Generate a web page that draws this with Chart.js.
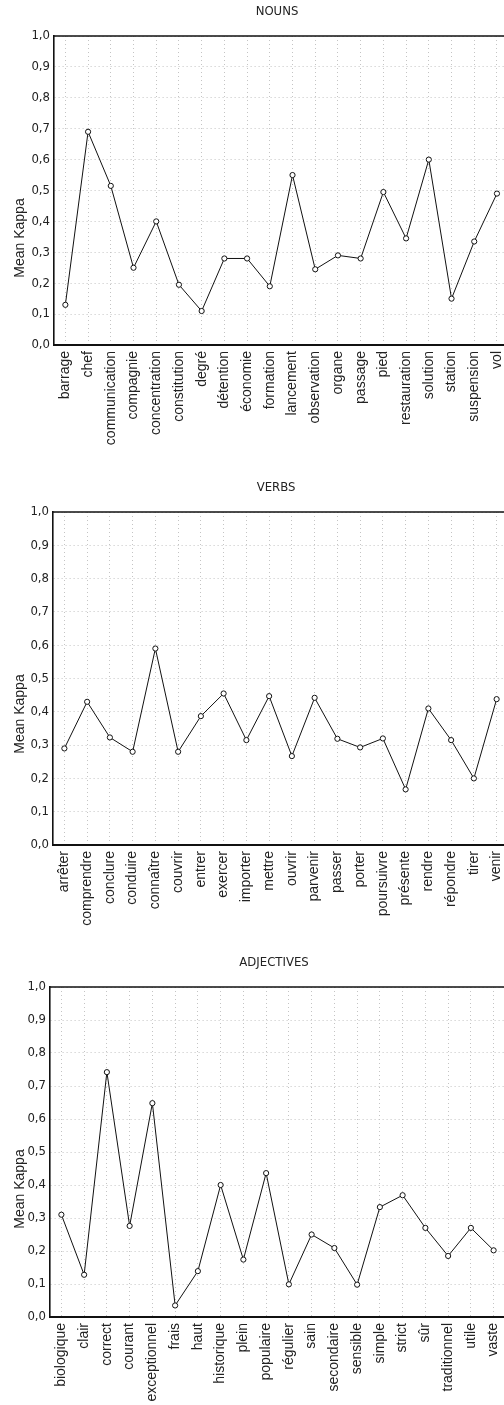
<!DOCTYPE html>
<html>
<head>
<meta charset="utf-8">
<script src="https://cdn.jsdelivr.net/npm/chart.js@4/dist/chart.umd.min.js"></script>
<style>
  html, body { margin: 0; padding: 0; background: #fff; }
  #wrap { position: relative; width: 504px; height: 1405px; overflow: hidden; }
  canvas { position: absolute; left: 0; }
</style>
</head>
<body>
<div id="wrap">
  <canvas id="nouns" width="520" height="450" style="top:0px"></canvas>
  <canvas id="verbs" width="520" height="475" style="top:460px"></canvas>
  <canvas id="adjectives" width="520" height="470" style="top:935px"></canvas>
</div>
<script>
// data
const nounLabels = ['barrage', 'chef', 'communication', 'compagnie', 'concentration', 'constitution',
    'degré', 'détention', 'économie', 'formation', 'lancement', 'observation', 'organe', 'passage',
    'pied', 'restauration', 'solution', 'station', 'suspension', 'vol'];
const nounKappa = [0.13, 0.69, 0.515, 0.25, 0.40, 0.195, 0.11, 0.28, 0.28, 0.19, 0.55, 0.245,
    0.29, 0.28, 0.495, 0.345, 0.60, 0.15, 0.335, 0.49];

const verbLabels = ['arrêter', 'comprendre', 'conclure', 'conduire', 'connaître', 'couvrir', 'entrer',
    'exercer', 'importer', 'mettre', 'ouvrir', 'parvenir', 'passer', 'porter', 'poursuivre',
    'présente', 'rendre', 'répondre', 'tirer', 'venir'];
const verbKappa = [0.29, 0.43, 0.323, 0.28, 0.59, 0.28, 0.387, 0.455, 0.315, 0.447, 0.267, 0.442,
    0.319, 0.293, 0.32, 0.167, 0.41, 0.315, 0.20, 0.438];

const adjLabels = ['biologique', 'clair', 'correct', 'courant', 'exceptionnel', 'frais', 'haut',
    'historique', 'plein', 'populaire', 'régulier', 'sain', 'secondaire', 'sensible', 'simple',
    'strict', 'sûr', 'traditionnel', 'utile', 'vaste'];
const adjKappa = [0.31, 0.128, 0.742, 0.276, 0.648, 0.035, 0.139, 0.40, 0.174, 0.436, 0.099, 0.25,
    0.209, 0.098, 0.333, 0.369, 0.27, 0.185, 0.27, 0.202];

const kappaTicks = ['0,0', '0,1', '0,2', '0,3', '0,4', '0,5', '0,6', '0,7', '0,8', '0,9', '1,0'];
const axisTitle = 'Mean Kappa';

const labelFont = '"Liberation Sans", Arial, sans-serif';
const narrowFont = '"Liberation Sans Narrow", "DejaVu Sans Condensed", "Liberation Sans", sans-serif';

// frame on top, panel title and the y title (centred lower than the plot, as in the figure)
const decorations = {
    id: 'decorations',
    afterDraw(chart, args, opts) {
        const ctx = chart.ctx;
        const area = chart.chartArea;
        ctx.save();
        ctx.strokeStyle = '#111';
        ctx.lineWidth = 1.6;
        ctx.beginPath();
        ctx.moveTo(area.left, area.top);
        ctx.lineTo(area.right, area.top);
        ctx.stroke();

        ctx.fillStyle = '#222';
        ctx.textAlign = 'center';
        ctx.textBaseline = 'middle';
        ctx.font = '13px ' + narrowFont;
        ctx.fillText(opts.title, opts.titleX, area.top - 24);

        ctx.translate(20, area.top + 202);
        ctx.rotate(-Math.PI / 2);
        ctx.font = '14px ' + labelFont;
        ctx.fillText(axisTitle, 0, 0);
        ctx.restore();
    }
};

function makeChart(id, labels, values, title, box) {
    const canvas = document.getElementById(id);
    return new Chart(canvas.getContext('2d'), {
        type: 'line',
        data: {
            labels: labels,
            datasets: [{
                data: values,
                borderColor: '#111',
                borderWidth: 1,
                tension: 0,
                pointRadius: 2.6,
                pointHoverRadius: 2.6,
                pointBorderWidth: 1,
                pointBorderColor: '#111',
                pointBackgroundColor: '#fff'
            }]
        },
        options: {
            responsive: false,
            animation: false,
            events: [],
            layout: { padding: { top: box.top, right: canvas.width - box.right, left: 0, bottom: 0 } },
            plugins: {
                legend: { display: false },
                tooltip: { enabled: false },
                decorations: { title: title, titleX: box.titleX }
            },
            scales: {
                x: {
                    offset: true,
                    grid: { color: '#c4c4c4', lineWidth: 1, drawTicks: false, offset: false },
                    border: { color: '#111', width: 2, dash: [1, 3] },
                    ticks: {
                        autoSkip: false,
                        minRotation: 90,
                        maxRotation: 90,
                        padding: 6,
                        color: '#222',
                        font: { family: labelFont, size: 14 }
                    },
                    afterFit(axis) { axis.height = canvas.height - box.bottom; }
                },
                y: {
                    min: 0,
                    max: 1,
                    grid: { color: '#c4c4c4', lineWidth: 1, drawTicks: false },
                    border: { color: '#111', width: 1.6, dash: [1, 3] },
                    ticks: {
                        stepSize: 0.1,
                        padding: 4,
                        color: '#222',
                        font: { family: narrowFont, size: 13 },
                        callback: (v, i) => kappaTicks[i]
                    },
                    afterFit(axis) { axis.width = box.left; }
                }
            }
        },
        plugins: [decorations]
    });
}

document.fonts.load('13px "Liberation Sans Narrow"').finally(function() {
    makeChart('nouns', nounLabels, nounKappa, 'NOUNS',
        { top: 36, bottom: 345, left: 54, right: 510, titleX: 277 });
    makeChart('verbs', verbLabels, verbKappa, 'VERBS',
        { top: 52, bottom: 385, left: 53, right: 508, titleX: 276 });
    makeChart('adjectives', adjLabels, adjKappa, 'ADJECTIVES',
        { top: 52, bottom: 382, left: 50, right: 505, titleX: 274 });
});
</script>
</body>
</html>
